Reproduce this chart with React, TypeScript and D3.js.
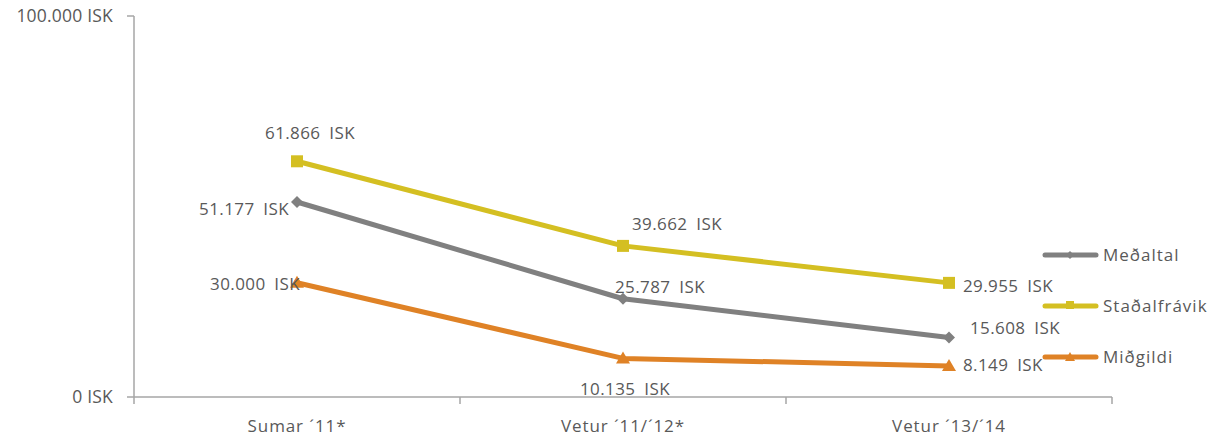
import React from "react";
import * as d3 from "d3";

const categories = ["Sumar ´11*", "Vetur ´11/´12*", "Vetur ´13/´14"];
const medaltal = [51177, 25787, 15608];
const stadalfravik = [61866, 39662, 29955];
const midgildi = [30000, 10135, 8149];
const yTicks = [0, 100000];

const fmt = (v: number) => d3.format(",")(v).replace(/,/g, ".") + " ISK";

const seriesList = [
  { name: "Meðaltal", values: medaltal, color: "#808080", marker: "diamond",
    labelOffsets: [[-8, 7, "end"], [-8, -12, "start"], [21, -9, "start"]] },
  { name: "Staðalfrávik", values: stadalfravik, color: "#D4BF22", marker: "square",
    labelOffsets: [[13, -28, "middle"], [9, -22, "start"], [14, 3, "start"]] },
  { name: "Miðgildi", values: midgildi, color: "#DF8226", marker: "triangle",
    labelOffsets: [[3, 1, "end"], [-43, 31, "start"], [14, -1, "start"]] },
];

export default function App() {
  const width = 1220, height = 442;
  const left = 134, right = 1112, top = 16, bottom = 397;
  const x = d3.scaleBand<string>().domain(categories).range([left, right]);
  const y = d3.scaleLinear().domain([0, 100000]).range([bottom, top]);
  const cx = (c: string) => (x(c) as number) + x.bandwidth() / 2;
  const font = "'Open Sans', sans-serif";
  const textColor = "#595959";
  const axisColor = "#A6A6A6";

  const markerPath = (type: string, px: number, py: number) => {
    if (type === "diamond") return `M${px},${py - 6}L${px + 6},${py}L${px},${py + 6}L${px - 6},${py}Z`;
    if (type === "square") return `M${px - 6},${py - 6}h12v12h-12Z`;
    return `M${px},${py - 7}L${px + 7},${py + 5}L${px - 7},${py + 5}Z`;
  };

  const legendY = [255, 306, 357];

  return (
    <svg width={width} height={height} style={{ position: "absolute", left: 0, top: 0 }}>
      <rect width={width} height={height} fill="#fff" />
      {/* y axis */}
      <line x1={left} x2={left} y1={top} y2={bottom + 7} stroke={axisColor} strokeWidth={1.5} />
      {yTicks.map((t) => (
        <g key={t}>
          <line x1={left - 7} x2={left} y1={y(t)} y2={y(t)} stroke={axisColor} strokeWidth={1.5} />
          <text x={left - 21} y={y(t)} dy="0.35em" textAnchor="end" fontFamily={font} fontSize={17.5}
            letterSpacing={0.2} fill={textColor}>
            {fmt(t)}
          </text>
        </g>
      ))}
      {/* x axis */}
      <line x1={left} x2={right} y1={bottom} y2={bottom} stroke={axisColor} strokeWidth={1.5} />
      {categories.map((c) => (
        <line key={c} x1={(x(c) as number) + x.bandwidth()} x2={(x(c) as number) + x.bandwidth()} y1={bottom} y2={bottom + 7}
          stroke={axisColor} strokeWidth={1.5} />
      ))}
      {categories.map((c) => (
        <text key={c} x={cx(c)} y={432} textAnchor="middle" fontFamily={font} fontSize={17}
          letterSpacing={0.9} fill={textColor}>
          {c}
        </text>
      ))}
      {/* series */}
      {seriesList.map((s) => {
        const line = d3.line<number>().x((_, i) => cx(categories[i])).y((v) => y(v));
        return (
          <g key={s.name}>
            <path d={line(s.values) || ""} fill="none" stroke={s.color} strokeWidth={5} strokeLinejoin="round" />
            {s.values.map((v, i) => (
              <path key={i} d={markerPath(s.marker, cx(categories[i]), y(v))} fill={s.color} />
            ))}
            {s.values.map((v, i) => {
              const [dx, dy, anchor] = s.labelOffsets[i] as [number, number, string];
              return (
                <text key={"l" + i} x={cx(categories[i]) + dx} y={y(v) + dy} dy="0.35em" textAnchor={anchor as any}
                  fontFamily={font} fontSize={17} letterSpacing={0.4} wordSpacing={4} fill={textColor}>
                  {fmt(v)}
                </text>
              );
            })}
          </g>
        );
      })}
      {/* legend */}
      {seriesList.map((s, i) => (
        <g key={s.name}>
          <line x1={1045} x2={1096} y1={legendY[i]} y2={legendY[i]} stroke={s.color} strokeWidth={5} strokeLinecap="round" />
          <path d={s.marker === "diamond"
            ? `M1070,${legendY[i] - 4}L1074,${legendY[i]}L1070,${legendY[i] + 4}L1066,${legendY[i]}Z`
            : s.marker === "square"
              ? `M1066,${legendY[i] - 5}h8v8h-8Z`
              : `M1070,${legendY[i] - 5}L1075,${legendY[i] + 4}L1065,${legendY[i] + 4}Z`} fill={s.color} />
          <text x={1103} y={legendY[i]} dy="0.35em" fontFamily={font} fontSize={17} letterSpacing={1}
            fill={textColor}>{s.name}</text>
        </g>
      ))}
    </svg>
  );
}
